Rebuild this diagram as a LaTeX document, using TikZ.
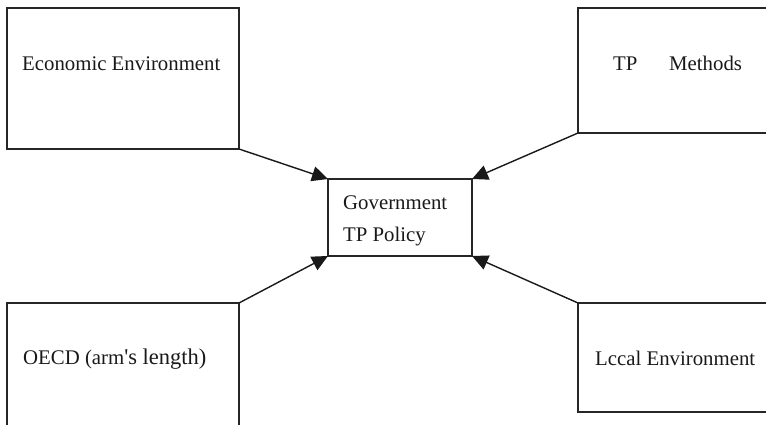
\documentclass[tikz,border=0pt]{standalone}
\usepackage{fontspec}
\setmainfont{Liberation Serif}
\usetikzlibrary{arrows.meta}
\begin{document}
\begin{tikzpicture}[x=1pt,y=-1pt,
  boxst/.style={draw=black!85,line width=1.3pt,inner sep=0pt,outer sep=0pt},
  lbl/.style={anchor=base west,inner sep=0pt,font=\fontsize{20.8}{25}\selectfont,text=black!90},
  conn/.style={draw=black!90,line width=1.4pt,-{Triangle[length=16pt,width=15pt]}}]
\useasboundingbox (0,0) rectangle (766,425);
\clip (0,0) rectangle (766,425);
\node[boxst,minimum width=232pt,minimum height=141pt] (eco) at (123,78.5) {};
\node[boxst,minimum width=222pt,minimum height=125pt] (tpm) at (689,70.5) {};
\node[boxst,minimum width=232pt,minimum height=147pt] (oecd) at (123,376.5) {};
\node[boxst,minimum width=222pt,minimum height=109pt] (loc) at (689,357.5) {};
\node[boxst,minimum width=144pt,minimum height=77pt] (gov) at (400,217.5) {};
\node[lbl] (t1) at (22,71) {Economic Environment};
\node[lbl] (t2) at (613,71) {TP};
\node[lbl] (t3) at (669,71) {Methods};
\node[lbl] (t4) at (23,364) {OECD (arm\fontsize{22.5}{27}\selectfont\textquotesingle s length)};
\node[lbl] (t5) at (595,365) {Lccal Environment};
\node[lbl] (t6) at (343,209) {Government};
\node[lbl] (t7) at (343,241) {TP Policy};
\draw[conn] (eco.south east) -- (gov.north west);
\draw[conn] (tpm.south west) -- (gov.north east);
\draw[conn] (oecd.north east) -- (gov.south west);
\draw[conn] (loc.north west) -- (gov.south east);
\end{tikzpicture}
\end{document}
